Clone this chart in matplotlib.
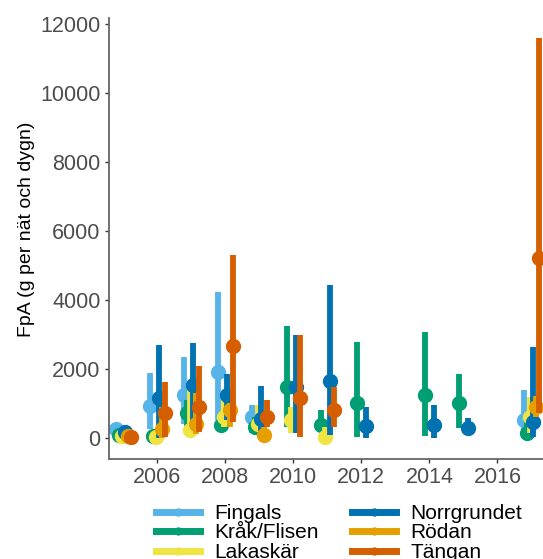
import matplotlib
matplotlib.use("Agg")
import matplotlib.pyplot as plt
from matplotlib.lines import Line2D
import numpy as np

plt.rcParams['font.family'] = ['Liberation Sans', 'DejaVu Sans']

# Fångst per ansträngning per lokal och år: medel samt nedre/övre gräns
sites = ["Fingals", "Kråk/Flisen", "Lakaskär", "Norrgrundet", "Rödan", "Tängan"]
colors = ["#56B4E9", "#009E73", "#F0E442", "#0072B2", "#E69F00", "#D55E00"]

fingals_year = [2005, 2006, 2007, 2008, 2009, 2017]
fingals_mean = [250, 920, 1230, 1910, 600, 500]
fingals_low = [150, 250, 400, 500, 130, 30]
fingals_high = [350, 1860, 2340, 4230, 940, 1380]

krak_year = [2005, 2006, 2007, 2008, 2009, 2010, 2011, 2012, 2014, 2015, 2017]
krak_mean = [60, 40, 700, 360, 310, 1470, 360, 990, 1230, 990, 120]
krak_low = [0, 0, 310, 150, 100, 310, 170, 20, 40, 270, 0]
krak_high = [150, 150, 1090, 700, 600, 3240, 800, 2780, 3070, 1840, 500]

lakaskar_year = [2005, 2006, 2007, 2008, 2009, 2010, 2011, 2017]
lakaskar_mean = [40, 20, 220, 600, 400, 500, 20, 600]
lakaskar_low = [0, 0, 130, 310, 220, 120, 0, 130]
lakaskar_high = [100, 120, 1380, 1180, 940, 890, 300, 1180]

norr_year = [2005, 2006, 2007, 2008, 2009, 2010, 2011, 2012, 2014, 2015, 2017]
norr_mean = [150, 1140, 1520, 1230, 550, 1470, 1640, 330, 360, 270, 450]
norr_low = [60, 0, 510, 510, 170, 130, 70, 0, 0, 170, 20]
norr_high = [250, 2680, 2750, 1840, 1490, 2980, 4430, 890, 940, 560, 2640]

rodan_year = [2005, 2006, 2007, 2008, 2009, 2017]
rodan_mean = [40, 250, 400, 800, 80, 900]
rodan_low = [0, 0, 100, 300, 0, 600]
rodan_high = [100, 900, 1300, 1000, 300, 1200]

tangan_year = [2005, 2006, 2007, 2008, 2009, 2010, 2011, 2017]
tangan_mean = [20, 700, 890, 2650, 600, 1150, 800, 5200]
tangan_low = [0, 20, 170, 460, 310, 20, 310, 700]
tangan_high = [60, 1620, 2080, 5300, 1090, 2980, 1480, 11590]

series = [
    (fingals_year, fingals_mean, fingals_low, fingals_high),
    (krak_year, krak_mean, krak_low, krak_high),
    (lakaskar_year, lakaskar_mean, lakaskar_low, lakaskar_high),
    (norr_year, norr_mean, norr_low, norr_high),
    (rodan_year, rodan_mean, rodan_low, rodan_high),
    (tangan_year, tangan_mean, tangan_low, tangan_high),
]

# sidoförskjutning per år, beroende på hur många lokaler som finns det året
dodge_width = 0.52
present = {}
for i, (yrs, _, _, _) in enumerate(series):
    for y in yrs:
        present.setdefault(y, []).append(i)

def dodged(i, year):
    grp = present[year]
    n = len(grp)
    k = grp.index(i)
    return year + (k - (n - 1) / 2) * dodge_width / n

fig = plt.figure(figsize=(5.43, 5.59), dpi=100)
ax = fig.add_axes([109 / 543, 1 - 459 / 559, (543 - 109) / 543, (459 - 18) / 559])

for i, (yrs, mean, low, high) in enumerate(series):
    xs = [dodged(i, y) for y in yrs]
    ax.vlines(xs, low, high, color=colors[i], linewidth=4.2, zorder=2 + i)
    ax.plot(xs, mean, 'o', color=colors[i], markersize=10, zorder=2 + i)

ax.set_xlim(2004.58, 2017.34)
ax.set_ylim(-624, 12180)
ax.set_xticks([2006, 2008, 2010, 2012, 2014, 2016])
ax.set_yticks([0, 2000, 4000, 6000, 8000, 10000, 12000])
ax.tick_params(colors='#333333', labelcolor='#4D4D4D', labelsize=15.5, length=3, width=1, pad=3)
ax.set_ylabel("FpA (g per nät och dygn)", fontsize=14, color='black', labelpad=4, y=0.52)
for side in ['top', 'right']:
    ax.spines[side].set_visible(False)
for side in ['left', 'bottom']:
    ax.spines[side].set_color('#666666')
    ax.spines[side].set_linewidth(1.3)

handles = [Line2D([0], [0], color=c, linewidth=5, marker='o', markersize=5) for c in colors]
fig.legend(handles, sites, loc='upper center', bbox_to_anchor=(0.625, 0.132), ncol=2,
           frameon=False, fontsize=15, handlelength=2.1, columnspacing=1.6,
           handletextpad=0.7, labelspacing=0.02)

fig.savefig("out.png", dpi=100)
